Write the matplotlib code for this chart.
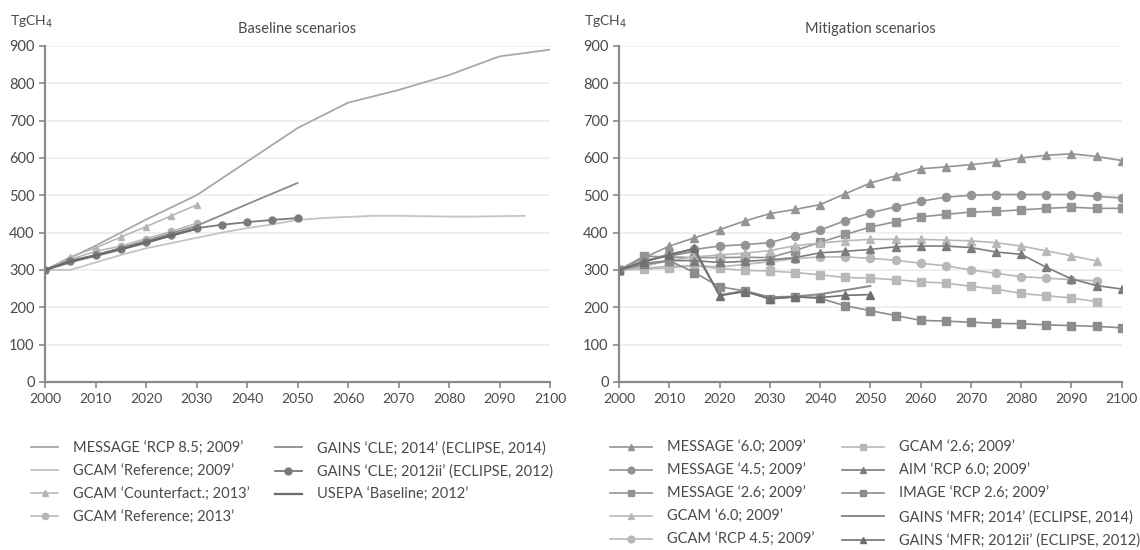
import numpy as np
import matplotlib
matplotlib.use("Agg")
import matplotlib.pyplot as plt

plt.rcParams['font.family'] = ['Lato', 'DejaVu Sans']

# ---- baseline scenarios (TgCH4) ----
yr_dec = list(range(2000, 2101, 10))
msg_85 = [300, 365, 435, 500, 590, 680, 748, 782, 822, 872, 890]

yr_2095 = list(range(2000, 2096, 5))
gcam_ref09 = [300, 300, 320, 340, 358, 372, 386, 400, 412, 422, 434, 439, 442, 445, 445, 444, 443, 443, 444, 445]

yr_2030 = list(range(2000, 2031, 5))
gcam_cf13 = [300, 335, 359, 388, 416, 445, 474]
gcam_ref13 = [300, 328, 350, 364, 384, 403, 425]
usepa = [300, 322, 338, 355, 373, 392, 410]

yr_2050d = [2000, 2010, 2020, 2030, 2040, 2050]
gains_cle14 = [300, 340, 378, 418, 476, 533]

yr_2050 = list(range(2000, 2051, 5))
gains_cle12 = [300, 325, 340, 357, 375, 393, 412, 421, 428, 434, 439]

# ---- mitigation scenarios (TgCH4) ----
yr_2100 = list(range(2000, 2101, 5))
msg_60 = [300, 333, 364, 386, 408, 431, 451, 462, 475, 504, 533, 552, 571, 576, 582, 589, 600, 607, 611, 604, 593]
msg_45 = [300, 322, 343, 355, 364, 368, 373, 392, 407, 432, 453, 469, 484, 495, 500, 502, 502, 502, 502, 497, 493]
msg_26 = [300, 337, 335, 333, 333, 334, 333, 352, 374, 395, 415, 429, 442, 449, 455, 457, 461, 465, 468, 465, 465]
gcam_60 = [300, 310, 325, 335, 340, 345, 352, 365, 372, 378, 382, 382, 382, 380, 378, 373, 364, 351, 338, 324]
gcam_45 = [300, 305, 310, 312, 308, 315, 322, 330, 335, 335, 331, 326, 318, 311, 300, 291, 282, 278, 274, 271]
gcam_26 = [300, 302, 306, 311, 304, 299, 297, 293, 287, 280, 278, 274, 268, 265, 256, 249, 237, 231, 225, 215]
aim_60 = [300, 315, 325, 325, 320, 323, 327, 333, 346, 350, 355, 362, 364, 364, 360, 348, 342, 307, 276, 258, 249]
image_26 = [300, 318, 325, 293, 255, 244, 222, 228, 224, 204, 191, 178, 165, 163, 160, 157, 156, 153, 151, 149, 145]
gains_mfr14 = [300, 325, 338, 350, 233, 244, 227, 229, 235, 246, 257]
gains_mfr12 = [300, 322, 340, 358, 231, 242, 223, 228, 226, 232, 234]

fig = plt.figure(figsize=(11.4, 5.5), dpi=100)
ax1 = fig.add_axes([0.0395, 0.3055, 0.443, 0.611])
ax2 = fig.add_axes([0.543, 0.3055, 0.441, 0.611])

TXT = '#4a4a4a'


def style(ax, title):
    ax.set_xlim(2000, 2100)
    ax.set_ylim(0, 900)
    ax.set_xticks(range(2000, 2101, 10))
    ax.set_yticks(range(0, 901, 100))
    ax.grid(axis='y', color='#ececec', lw=1.2)
    ax.set_axisbelow(True)
    for s in ['top', 'right']:
        ax.spines[s].set_visible(False)
    for s in ['left', 'bottom']:
        ax.spines[s].set_color('#8a8a8a')
        ax.spines[s].set_linewidth(1.6)
    ax.tick_params(colors='#8a8a8a', labelcolor=TXT, labelsize=10.5, width=1.2, length=4)
    ax.tick_params(axis='x', pad=4, labelsize=10)
    ax.set_title(title, fontsize=10.5, color=TXT, pad=9)
    ax.text(-0.07, 1.06, 'TgCH$_4$', transform=ax.transAxes, fontsize=10, color=TXT, ha='left')


style(ax1, 'Baseline scenarios')
style(ax2, 'Mitigation scenarios')

# baseline panel
ax1.plot(yr_dec, msg_85, color='#a8a8a8', lw=1.3, label="MESSAGE \u2018RCP 8.5; 2009\u2019")
ax1.plot(yr_2095, gcam_ref09, color='#c4c4c4', lw=1.3, label="GCAM \u2018Reference; 2009\u2019")
ax1.plot(yr_2030, gcam_cf13, color='#b4b4b4', lw=1.1, marker='^', ms=4, label="GCAM \u2018Counterfact.; 2013\u2019")
ax1.plot(yr_2030, gcam_ref13, color='#b4b4b4', lw=1.1, marker='o', ms=4.5, label="GCAM \u2018Reference; 2013\u2019")
ax1.plot(yr_2050d, gains_cle14, color='#8c8c8c', lw=1.3, label="GAINS \u2018CLE; 2014\u2019 (ECLIPSE, 2014)")
ax1.plot(yr_2050, gains_cle12, color='#7a7a7a', lw=1.3, marker='o', ms=5, label="GAINS \u2018CLE; 2012ii\u2019 (ECLIPSE, 2012)")
ax1.plot(yr_2030, usepa, color='#6a6a6a', lw=1.6, label="USEPA \u2018Baseline; 2012\u2019")

# mitigation panel
mk = dict(lw=1.2, ms=5.8)
ax2.plot(yr_2100, msg_60, color='#949494', marker='^', label="MESSAGE \u20186.0; 2009\u2019", **mk)
ax2.plot(yr_2100, msg_45, color='#949494', marker='o', label="MESSAGE \u20184.5; 2009\u2019", **mk)
ax2.plot(yr_2100, msg_26, color='#949494', marker='s', label="MESSAGE \u20182.6; 2009\u2019", **mk)
ax2.plot(yr_2095, gcam_60, color='#b8b8b8', marker='^', label="GCAM \u20186.0; 2009\u2019", **mk)
ax2.plot(yr_2095, gcam_45, color='#b8b8b8', marker='o', label="GCAM \u2018RCP 4.5; 2009\u2019", **mk)
ax2.plot(yr_2095, gcam_26, color='#b8b8b8', marker='s', label="GCAM \u20182.6; 2009\u2019", **mk)
ax2.plot(yr_2100, aim_60, color='#7c7c7c', marker='^', label="AIM \u2018RCP 6.0; 2009\u2019", **mk)
ax2.plot(yr_2100, image_26, color='#8c8c8c', marker='s', label="IMAGE \u2018RCP 2.6; 2009\u2019", **mk)
ax2.plot(yr_2050, gains_mfr14, color='#8a8a8a', lw=1.4, label="GAINS \u2018MFR; 2014\u2019 (ECLIPSE, 2014)")
ax2.plot(yr_2050, gains_mfr12, color='#6f6f6f', marker='^', label="GAINS \u2018MFR; 2012ii\u2019 (ECLIPSE, 2012)", **mk)

leg_kw = dict(ncol=2, frameon=False, fontsize=10.5, labelcolor=TXT,
              labelspacing=0.62, borderaxespad=0, borderpad=0)
h, l = ax1.get_legend_handles_labels()
fig.legend(h, l, loc='upper left', bbox_to_anchor=(0.027, 0.198), handlelength=1.9,
           handletextpad=1.0, columnspacing=1.7, **leg_kw)
h, l = ax2.get_legend_handles_labels()
fig.legend(h, l, loc='upper left', bbox_to_anchor=(0.535, 0.198), handlelength=2.9,
           handletextpad=1.0, columnspacing=1.9, markerscale=0.85, **leg_kw)

fig.savefig('out.png', dpi=100)
